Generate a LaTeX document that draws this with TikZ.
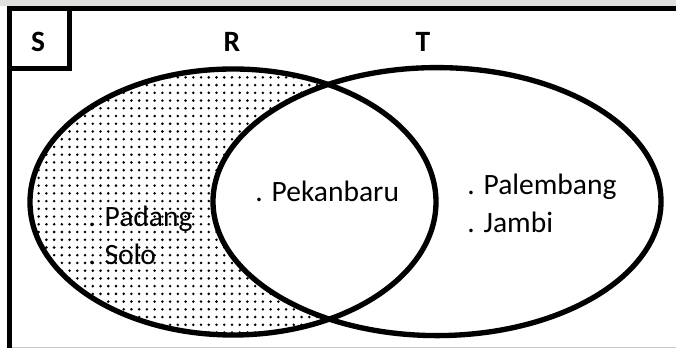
\documentclass[tikz,border=0pt]{standalone}
\usepackage{fontspec}
\setmainfont{Carlito}
\usepackage{tikz}
\usetikzlibrary{patterns.meta}

\definecolor{streifen}{RGB}{224,224,220}
\definecolor{randlinie}{RGB}{200,200,200}

\begin{document}
\begin{tikzpicture}[
		menge/.style={line width=3.8pt},
		rahmen/.style={line width=3.8pt},
		eintrag/.style={anchor=base west, inner sep=0pt, font=\fontsize{21}{24}\selectfont},
		kopf/.style={inner sep=0pt, font=\bfseries\fontsize{21}{24}\selectfont}
	]
			\useasboundingbox (0,0) rectangle (16.9,8.7);
			
			% Hintergrund oben
			\fill[streifen] (0,8.55) rectangle (16.9,8.7);
			\draw[randlinie, thin] (0.245,0.03) -- (16.9,0.03);
			
			% Rahmen S
			\draw[rahmen] (16.9,8.49) -- (0.245,8.49) -- (0.245,0);
			\draw[rahmen] (0.245,8.49) rectangle (1.737,6.99);
			
			% Schraffur R ohne T
			\begin{scope}[even odd rule]
				\clip (0,0) rectangle (16.9,8.7) (10.925,3.66) ellipse [x radius=5.6, y radius=3.35];
				\fill[pattern={Dots[distance=5.5pt, radius=1pt]}] (5.825,3.65) ellipse [x radius=5.075, y radius=3.325];
			\end{scope}
			
			% Mengen R und T
			\draw[menge] (5.825,3.65) ellipse [x radius=5.075, y radius=3.325];
			\draw[menge] (10.925,3.66) ellipse [x radius=5.6, y radius=3.35];
			
			% Beschriftung
			\node[kopf] (lblS) at (0.95,7.64) {S};
			\node[kopf] (lblR) at (5.8,7.64) {R};
			\node[kopf] (lblT) at (10.575,7.64) {T};
			
			% Elemente
			\node[eintrag] (pekanbaru) at (6.375,3.65) {. Pekanbaru};
			\node[eintrag] (palembang) at (11.675,3.825) {. Palembang};
			\node[eintrag] (jambi) at (11.675,2.875) {. Jambi};
			\node[eintrag] (padang) at (2.2,3.025) {. Padang};
			\node[eintrag] (solo) at (2.2,2.075) {. Solo};
		\end{tikzpicture}
\end{document}
